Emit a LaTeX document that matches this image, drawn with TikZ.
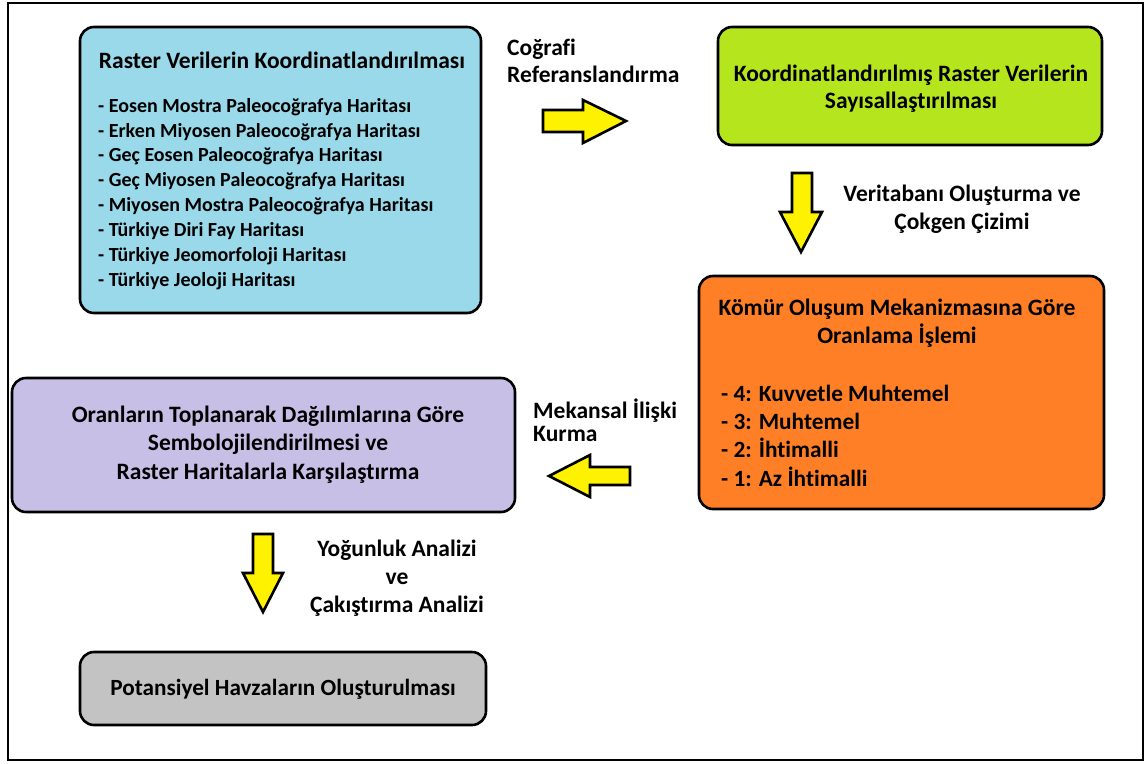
\documentclass[tikz,border=0pt]{standalone}
\usepackage{fontspec}
\setmainfont{Carlito}[Ligatures=NoCommon]
\begin{document}
\begin{tikzpicture}[x=1pt,y=-1pt,
  box/.style={draw=black,line width=2.6pt,rounded corners=14pt},
  txt/.style={font=\bfseries\fontsize{23.5}{28}\selectfont,inner sep=0pt,text=black},
  lst/.style={font=\bfseries\fontsize{20}{24.9}\selectfont,inner sep=0pt,align=left,anchor=west},
  big/.style={font=\bfseries\fontsize{23.3}{28.3}\selectfont,inner sep=0pt,align=left,anchor=west},
  blockarrow/.style={draw=black,line width=2.6pt,fill=arrowyellow,line join=miter}]
\definecolor{boxblue}{HTML}{99D9EA}
\definecolor{boxgreen}{HTML}{B5E61D}
\definecolor{boxorange}{HTML}{FF7F27}
\definecolor{boxpurple}{HTML}{C8BFE7}
\definecolor{boxgray}{HTML}{C3C3C3}
\definecolor{arrowyellow}{HTML}{FFF200}
\useasboundingbox (0,0) rectangle (1147,763);
% outer frame
\draw[line width=2.8pt] (8,3) rectangle (1143,760);

% boxes
\draw[box,fill=boxblue]   (80,27)  rectangle (481,313);
\draw[box,fill=boxgreen]  (718,27) rectangle (1102,145);
\draw[box,fill=boxorange] (699,276) rectangle (1104,509);
\draw[box,fill=boxpurple] (12,378) rectangle (515,512);
\draw[box,fill=boxgray]   (80,652) rectangle (486,725);

% raster box text
\node[txt] (t1) at (282,60) {Raster Verilerin Koordinatlandırılması};
\node[lst] (l1) at (98,194) {- Eosen Mostra Paleocoğrafya Haritası\\
- Erken Miyosen Paleocoğrafya Haritası\\
- Geç Eosen Paleocoğrafya Haritası\\
- Geç Miyosen Paleocoğrafya Haritası\\
- Miyosen Mostra Paleocoğrafya Haritası\\
- Türkiye Diri Fay Haritası\\
- Türkiye Jeomorfoloji Haritası\\
- Türkiye Jeoloji Haritası};

% digitising box text
\node[txt,align=center,font=\bfseries\fontsize{23.5}{27}\selectfont] (t2) at (911,88.5)
  {Koordinatlandırılmış Raster Verilerin\\Sayısallaştırılması};

% ratio box text
\node[txt,align=center,font=\bfseries\fontsize{23.5}{28}\selectfont] (t3) at (897,323)
  {Kömür Oluşum Mekanizmasına Göre\\Oranlama İşlemi};
\node[big] (l3) at (721,435.5) {- 4: Kuvvetle Muhtemel\\
- 3: Muhtemel\\
- 2: İhtimalli\\
- 1: Az İhtimalli};

% symbolisation box text
\node[txt,align=center,font=\bfseries\fontsize{23.5}{28.5}\selectfont] (t4) at (268,444.5)
  {Oranların Toplanarak Dağılımlarına Göre\\Sembolojilendirilmesi ve\\Raster Haritalarla Karşılaştırma};

% result box text
\node[txt,font=\bfseries\fontsize{23.2}{28}\selectfont] (t5) at (283,689) {Potansiyel Havzaların Oluşturulması};

% step labels
\node[txt,align=left,anchor=west,font=\bfseries\fontsize{23.5}{27}\selectfont] (c1) at (507,60.5)
  {Coğrafi\\Referanslandırma};
\node[txt,align=center,font=\bfseries\fontsize{23.5}{28}\selectfont] (c2) at (962,209)
  {Veritabanı Oluşturma ve\\Çokgen Çizimi};
\node[txt,align=left,anchor=west,font=\bfseries\fontsize{23.5}{23}\selectfont] (c3) at (533,420.5)
  {Mekansal İlişki\\Kurma};
\node[txt,align=center,font=\bfseries\fontsize{23.5}{28}\selectfont] (c4) at (397,578)
  {Yoğunluk Analizi\\ve\\Çakıştırma Analizi};

% block arrows
\draw[blockarrow] (543,110) -- (583,110) -- (583,100) -- (626,121) -- (583,143) -- (583,132) -- (543,132) -- cycle;
\draw[blockarrow] (792,173) -- (812,173) -- (812,212) -- (822,212) -- (801,252) -- (780,212) -- (792,212) -- cycle;
\draw[blockarrow] (630,467) -- (590,467) -- (590,455) -- (549,476) -- (590,497) -- (590,485) -- (630,485) -- cycle;
\draw[blockarrow] (253,534) -- (273,534) -- (273,573) -- (283,573) -- (263,612) -- (243,573) -- (253,573) -- cycle;
\end{tikzpicture}
\end{document}
